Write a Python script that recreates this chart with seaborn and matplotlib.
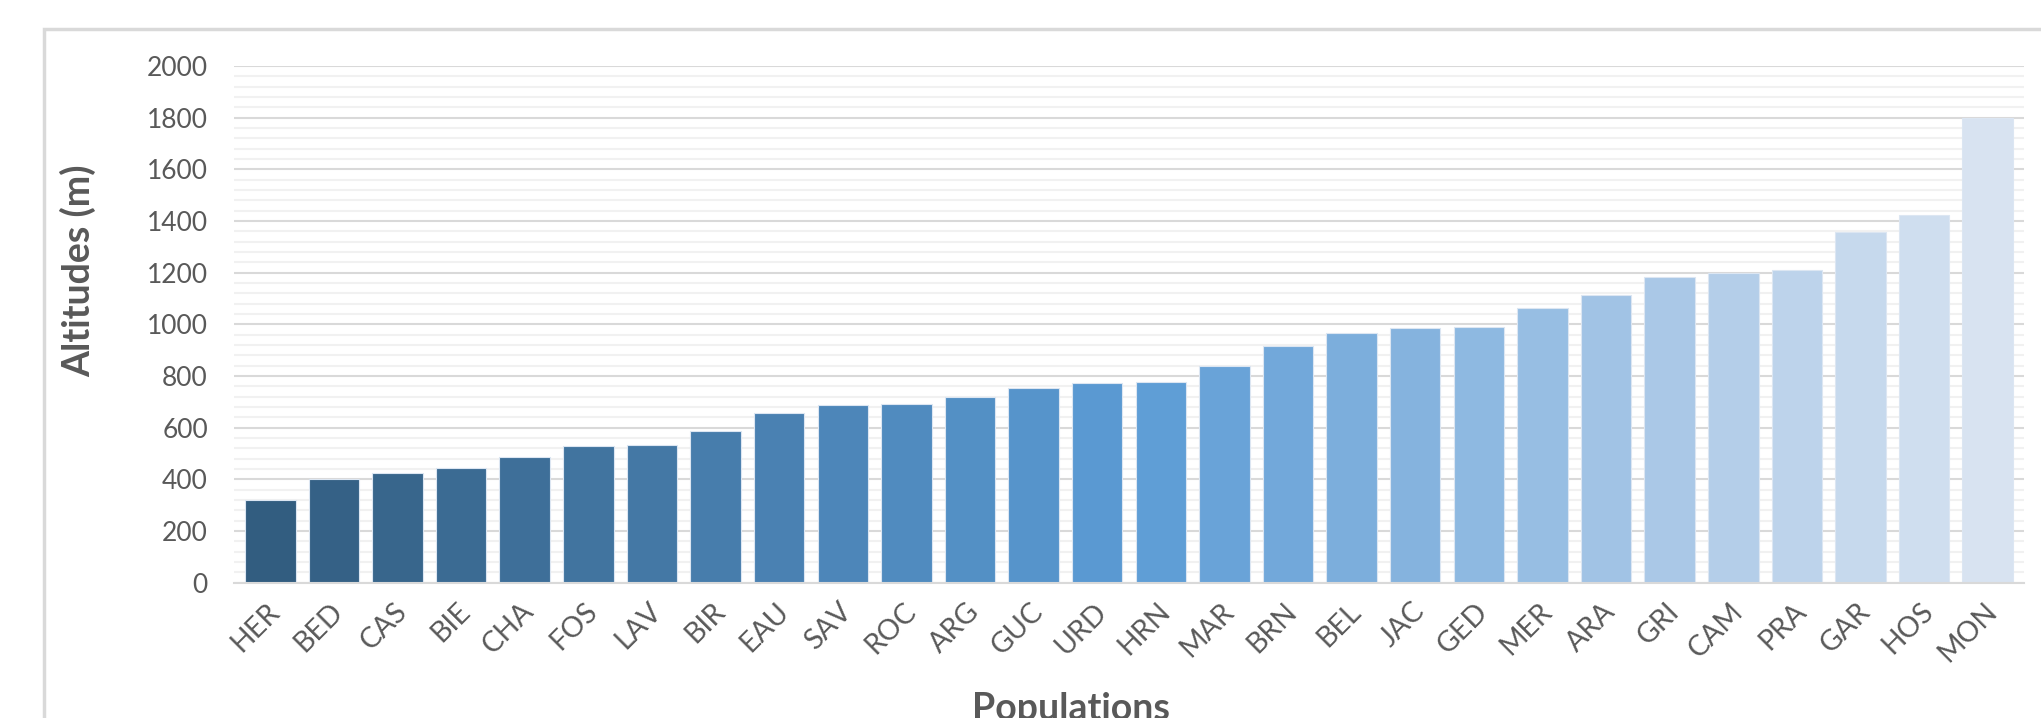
import matplotlib
matplotlib.use("Agg")
import matplotlib.pyplot as plt
import matplotlib.transforms as mtransforms
from matplotlib.patches import Rectangle
from matplotlib.ticker import MultipleLocator
import seaborn as sns
import pandas as pd

# ---- data ----
populations = ["HER", "BED", "CAS", "BIE", "CHA", "FOS", "LAV", "BIR", "EAU", "SAV",
               "ROC", "ARG", "GUC", "URD", "HRN", "MAR", "BRN", "BEL", "JAC", "GED",
               "MER", "ARA", "GRI", "CAM", "PRA", "GAR", "HOS", "MON"]
altitudes = [322, 401, 424, 444, 486, 529, 534, 588, 657, 686,
             693, 717, 755, 772, 778, 839, 917, 965, 984, 990,
             1063, 1112, 1185, 1200, 1210, 1358, 1424, 1800]
y_ticks = [0, 200, 400, 600, 800, 1000, 1200, 1400, 1600, 1800, 2000]
x_title = "Populations"
y_title = "Altitudes (m)"

df = pd.DataFrame({"Population": populations, "Altitude": altitudes})

sns.set_theme(style="white")
plt.rcParams["font.family"] = ["Lato", "DejaVu Sans"]

W, H = 2041, 718
fig = plt.figure(figsize=(W / 100, H / 100), dpi=100)
ax = fig.add_axes([234.3 / W, 135.3 / H, (2023.7 - 234.3) / W, (582.7 - 66.0) / H])

palette = sns.blend_palette(["#325D80", "#5B9BD5", "#D8E3F1"], n_colors=len(populations))

sns.barplot(data=df, x="Population", y="Altitude", hue="Population", palette=palette,
            legend=False, width=0.794, saturation=1, edgecolor="#DCE6F2",
            linewidth=0.8, ax=ax)

ax.set_xlim(-0.566, len(populations) - 1 + 0.566)
ax.set_ylim(y_ticks[0], y_ticks[-1])
ax.set_yticks(y_ticks)
ax.yaxis.set_minor_locator(MultipleLocator(40))
ax.set_axisbelow(True)
ax.grid(which="major", axis="y", color="#D9D9D9", linewidth=1.5)
ax.grid(which="minor", axis="y", color="#F1F1F1", linewidth=1.5)
ax.grid(which="major", axis="x", visible=False)

for side in ["top", "right", "left"]:
    ax.spines[side].set_visible(False)
ax.spines["bottom"].set_color("#D9D9D9")
ax.spines["bottom"].set_linewidth(1.5)

ax.tick_params(axis="y", which="both", length=0, pad=19, labelsize=19, labelcolor="#595959")
ax.tick_params(axis="x", which="both", length=0, pad=11, labelsize=20.5, labelcolor="#595959")
ax.set_xticks(range(len(populations)))
ax.set_xticklabels(populations, rotation=45, ha="right", va="top", rotation_mode="anchor")
offset = mtransforms.ScaledTranslation(-4 / 100, 0, fig.dpi_scale_trans)
for lbl in ax.get_xticklabels():
    lbl.set_transform(lbl.get_transform() + offset)

ax.set_xlabel("")
ax.set_ylabel("")

fig.text(78 / W, 1 - 271 / H, y_title, rotation=90, ha="center", va="center",
         fontsize=27, fontweight="bold", color="#595959")
fig.text(1071 / W, 1 - 692 / H, x_title, ha="center", va="top",
         fontsize=27, fontweight="bold", color="#595959")

# chart area border (left and top visible, rest cropped)
fig.add_artist(Rectangle((44 / W, -0.2), 2.0, (718 - 29) / H + 0.2,
                         transform=fig.transFigure, fill=False,
                         edgecolor="#D9D9D9", linewidth=2.5))

fig.savefig("out.png", dpi=100, facecolor="white")
